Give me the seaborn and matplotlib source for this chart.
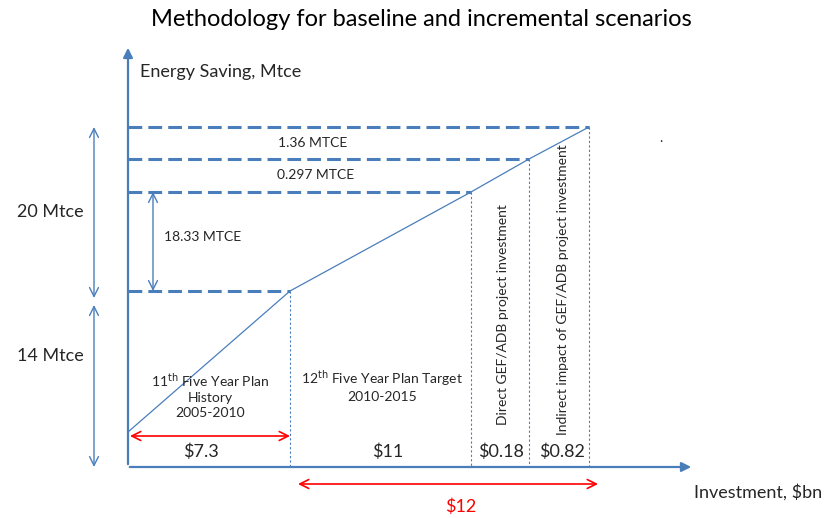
import seaborn as sns
import matplotlib.pyplot as plt
import pandas as pd

# schematic positions (diagram units = pixels of the 824x518 canvas)
invest_x = [128, 290, 471, 529, 589]      # breakpoints on investment axis
saving_y = [432, 291, 192, 159, 127]      # saving level at each breakpoint
invest_labels = ["$7.3", "$11", "$0.18", "$0.82"]
saving_labels = ["1.36 MTCE", "0.297 MTCE"]
stage_labels = ["11$^{\\mathrm{th}}$ Five Year Plan\nHistory\n2005-2010",
                "12$^{\\mathrm{th}}$ Five Year Plan Target\n2010-2015"]
rot_labels = ["Direct GEF/ADB project investment",
              "Indirect impact of GEF/ADB project investment"]

sns.set_theme(style="white")
plt.rcParams['font.family'] = ['Lato', 'DejaVu Sans']

blue = "#4A7EBB"
red = "#FF0000"

fig = plt.figure(figsize=(8.24, 5.18), dpi=100)
ax = fig.add_axes([0, 0, 1, 1])

x0 = invest_x[0]
y_base = 467

# main axes with arrows
ax.annotate("", xy=(x0, 45), xytext=(x0, y_base),
            arrowprops=dict(arrowstyle="-|>", color=blue, lw=1.6, mutation_scale=14))
ax.annotate("", xy=(694, y_base), xytext=(x0 - 1, y_base),
            arrowprops=dict(arrowstyle="-|>", color=blue, lw=1.6, mutation_scale=14))

# saving curve
df = pd.DataFrame({"x": invest_x, "y": saving_y})
sns.lineplot(data=df, x="x", y="y", ax=ax, color=blue, lw=0.9, sort=False)
ax.set_xlim(0, 824)
ax.set_ylim(518, 0)
ax.axis("off")

# dashed horizontal guide lines
for i in [1, 2, 3, 4]:
    ax.plot([x0, invest_x[i]], [saving_y[i], saving_y[i]], color=blue,
            lw=2.2, ls=(0, (4.5, 2)))
# dotted vertical guide lines
for i in [1, 2, 3, 4]:
    ax.plot([invest_x[i], invest_x[i]], [saving_y[i], y_base], color=blue,
            lw=0.8, ls=(0, (2, 2)))

# double arrows
def darrow(xa, ya, xb, yb, c=blue, lw=1.0):
    ax.annotate("", xy=(xa, ya), xytext=(xb, yb),
                arrowprops=dict(arrowstyle="<->", color=c, lw=lw,
                                mutation_scale=16, shrinkA=0, shrinkB=0))

darrow(153, saving_y[2], 153, saving_y[1])
darrow(94, saving_y[4], 94, 298)
darrow(94, 305, 94, y_base)

# red arrows
darrow(x0 + 2, 436, invest_x[1], 436, c=red, lw=1.2)
darrow(298, 484, 598, 484, c=red, lw=1.2)

# texts
ax.text(421, 20, "Methodology for baseline and incremental scenarios",
        ha="center", va="center", fontsize=17, color="black")
ax.text(140, 72, "Energy Saving, Mtce", ha="left", va="center", fontsize=13)
ax.text(694, 492, "Investment, $bn", ha="left", va="center", fontsize=13)
ax.text(50, 212, "20 Mtce", ha="center", va="center", fontsize=13)
ax.text(50, 356, "14 Mtce", ha="center", va="center", fontsize=13)
ax.text(164, 237, "18.33 MTCE", ha="left", va="center", fontsize=10)
ax.text(313, 143, saving_labels[0], ha="center", va="center", fontsize=10)
ax.text(316, 175, saving_labels[1], ha="center", va="center", fontsize=10)
ax.text(661, 138, ".", ha="center", va="center", fontsize=10)

ax.text(210, 395, stage_labels[0], ha="center", va="center", fontsize=10,
        linespacing=1.3)
ax.text(382, 386, stage_labels[1], ha="center", va="center", fontsize=10,
        linespacing=1.3)
ax.text(503, 315, rot_labels[0], ha="center", va="center", fontsize=10,
        rotation=90)
ax.text(563, 290, rot_labels[1], ha="center", va="center", fontsize=10,
        rotation=90)

val_x = [201, 388, 501, 562]
for xv, lab in zip(val_x, invest_labels):
    ax.text(xv, 452, lab, ha="center", va="center", fontsize=13)
ax.text(461, 507, "$12", ha="center", va="center", fontsize=13, color=red)

fig.savefig("out.png", dpi=100, facecolor="white")
